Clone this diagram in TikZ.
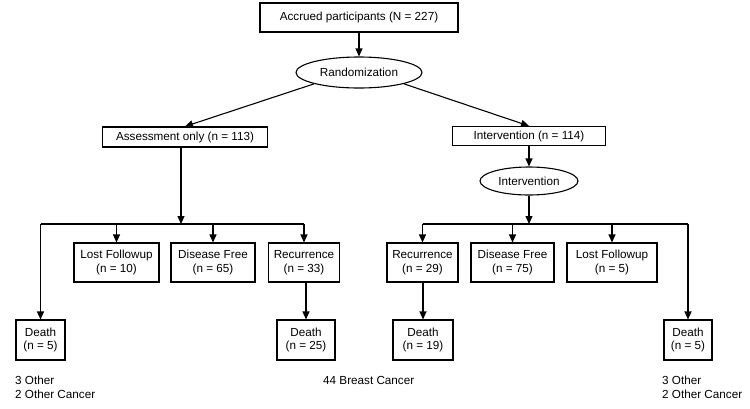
\documentclass[tikz,border=0pt]{standalone}
\usepackage{fontspec}
\setmainfont{Liberation Sans}
\usetikzlibrary{arrows.meta,shapes.geometric}
\begin{document}
\begin{tikzpicture}
		[	x=1pt,y=-1pt,
		box/.style={rectangle,draw=black,line width=1.1pt,align=center,inner sep=1pt,minimum height=39pt},
		oval/.style={ellipse,draw=black,line width=1.1pt,inner sep=1pt},
		plain/.style={draw=none,fill=none,align=left,anchor=north west,inner sep=0pt},
		arr/.style={-{Triangle[length=8pt,width=7pt]},line width=1.1pt},
		font=\fontsize{11.7}{13.4}\selectfont
		]
		\useasboundingbox (0,0) rectangle (750,408);

		% top of the chart
		\node[box,minimum width=198pt,minimum height=29pt] (accrued) at (359,17.5){Accrued participants (N = 227)};
		\node[oval,minimum width=126pt,minimum height=31pt] (random) at (359,72.5){Randomization};
		\node[box,minimum width=165pt,minimum height=20pt] (assess) at (185,137){Assessment only (n = 113)};
		\node[box,minimum width=153pt,minimum height=19pt] (interv) at (529,136){Intervention (n = 114)};
		\node[oval,minimum width=98pt,minimum height=28pt] (intoval) at (529,181){Intervention};

		% assessment arm
		\node[box,minimum width=85pt] (lostA) at (116.5,262.5){Lost Followup\\(n = 10)};
		\node[box,minimum width=84pt] (freeA) at (213,262.5){Disease Free\\(n = 65)};
		\node[box,minimum width=71pt] (recA) at (304,262.5){Recurrence\\(n = 33)};
		\node[box,minimum width=49pt,minimum height=40pt] (deathA) at (40.5,340){Death\\(n = 5)};
		\node[box,minimum width=58pt,minimum height=40pt] (deathRA) at (306,340){Death\\(n = 25)};

		% intervention arm
		\node[box,minimum width=71pt] (recB) at (422.5,262.5){Recurrence\\(n = 29)};
		\node[box,minimum width=83pt] (freeB) at (512.5,262.5){Disease Free\\(n = 75)};
		\node[box,minimum width=90pt] (lostB) at (612,262.5){Lost Followup\\(n = 5)};
		\node[box,minimum width=60pt,minimum height=40pt] (deathRB) at (423,340){Death\\(n = 19)};
		\node[box,minimum width=48pt,minimum height=40pt] (deathB) at (688,340){Death\\(n = 5)};

\node[plain] (causesA) at (15,376){3 Other\\2 Other Cancer};
\node[plain] (breast) at (323,376){44 Breast Cancer};
\node[plain] (causesB) at (662,376){3 Other\\2 Other Cancer};

		\coordinate (splitA) at (181,224);
		\coordinate (splitB) at (529,224);

		\draw[arr] (accrued) -- (random);
		\draw[arr] (random.south west) -- (assess.north);
		\draw[arr] (random.south east) -- (interv.north);
		\draw[arr] (interv) -- (intoval);
		\draw[arr] (assess.south -| splitA) -- (splitA);
		\draw[arr] (intoval) -- (splitB);

		\draw[line width=1.1pt] (deathA |- splitA) -- (recA |- splitA);
		\draw[line width=1.1pt] (recB |- splitB) -- (deathB |- splitB);
		\foreach \n in {deathA,lostA,freeA,recA,recB,freeB,lostB,deathB}
			\draw[arr] (\n |- splitA) -- (\n);
		\draw[arr] (recA.south -| deathRA) -- (deathRA);
		\draw[arr] (recB.south -| deathRB) -- (deathRB);
	\end{tikzpicture}
\end{document}
